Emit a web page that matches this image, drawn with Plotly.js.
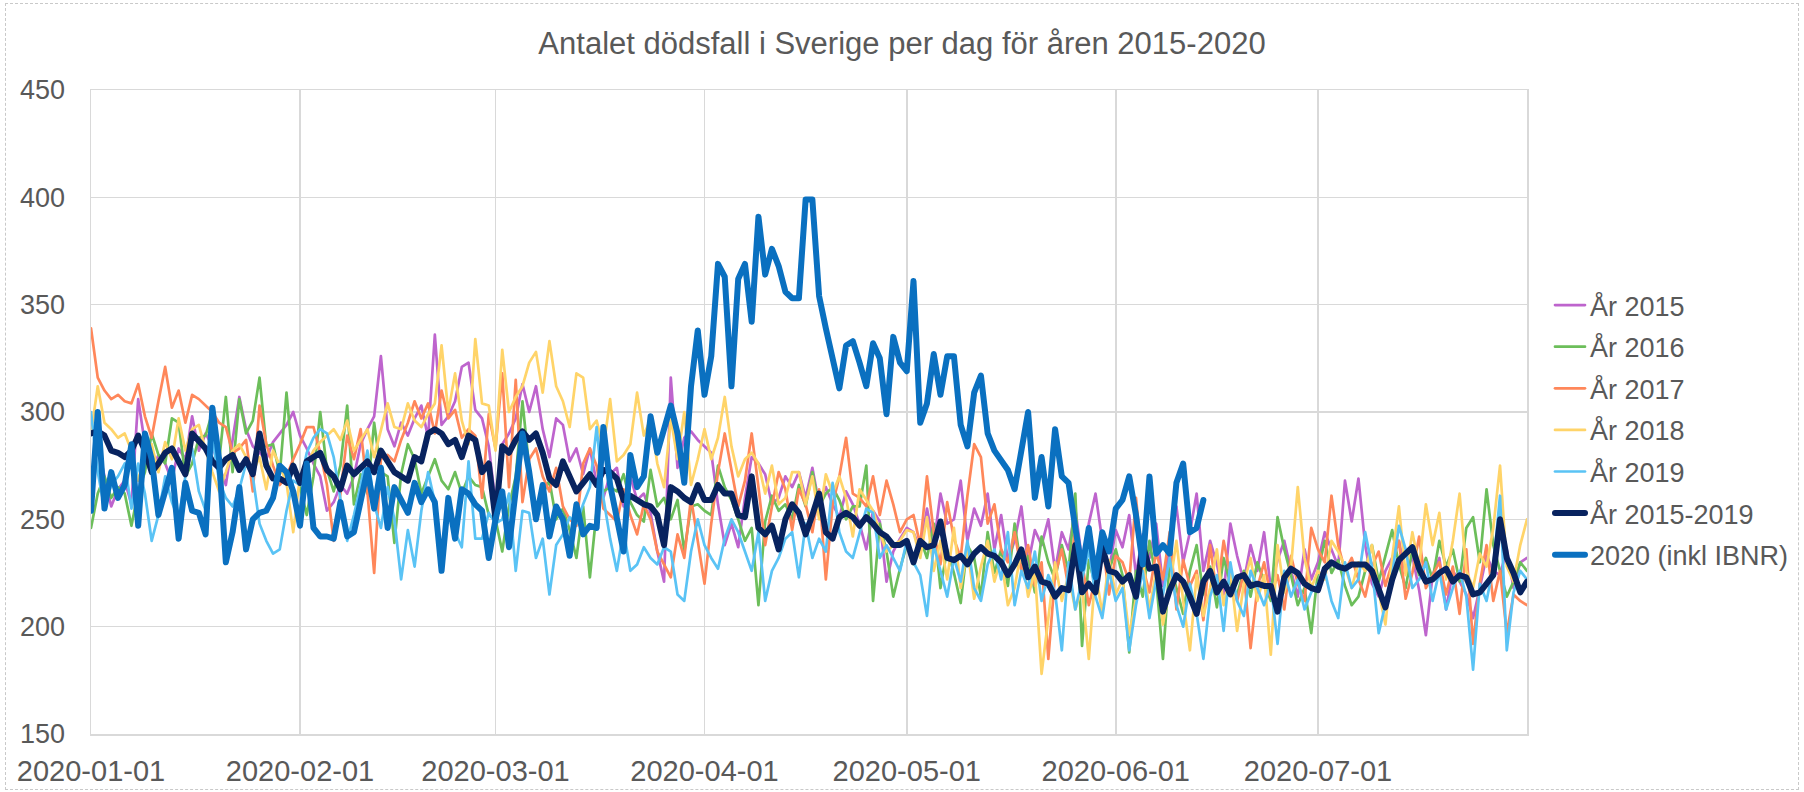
<!DOCTYPE html>
<html>
<head>
<meta charset="utf-8">
<script src="https://cdn.plot.ly/plotly-3.0.1.min.js"></script>
<style>
  body { margin: 0; background: #fff; }
  #wrap { position: relative; width: 1804px; height: 792px; }
  #chart { width: 1804px; height: 792px; }
  #frame { position: absolute; left: 5px; top: 3px; right: 5px; bottom: 2px;
           border: 1px dashed #c9c9c9; pointer-events: none; }
  .js-line { stroke-linejoin: round; stroke-linecap: round; }
</style>
</head>
<body>
<div id="wrap">
  <div id="chart"></div>
  <div id="frame"></div>
</div>
<script>
// daily deaths, one value per day starting 2020-01-01
var y2015 = [
  294, 285, 270, 256, 264, 268, 257, 306, 285, 272, 280, 276, 268, 283, 278, 298, 282, 290, 284, 275, 266, 287, 307, 292, 284, 281, 278, 286, 290, 294, 300, 289,
  283, 276, 270, 254, 258, 266, 262, 270, 285, 292, 298, 326, 292, 284, 295, 289, 297, 303, 288, 336, 294, 298, 305, 321, 323, 301, 297, 284, 258,
  285, 290, 297, 313, 300, 312, 292, 279, 297, 294, 277, 283, 271, 283, 267, 260, 271, 274, 256, 270, 259, 262, 253, 235, 221, 316, 274, 288, 291, 287, 284,
  281, 257, 238, 248, 237, 260, 279, 276, 271, 257, 260, 270, 265, 272, 260, 274, 257, 265, 257, 251, 263, 257, 248, 236, 254, 249, 221, 235, 241, 246,
  244, 236, 255, 238, 262, 248, 250, 268, 240, 255, 247, 262, 236, 252, 231, 240, 256, 229, 245, 238, 250, 226, 244, 236, 255, 231, 248, 262, 240, 226, 245,
  237, 252, 224, 243, 232, 248, 219, 238, 256, 230, 244, 262, 226, 240, 229, 215, 248, 233, 221, 238, 226, 244, 218, 231, 240, 226, 214, 236, 222, 230,
  244, 236, 228, 268, 249, 269, 238, 220, 214, 226, 232, 240, 225, 233, 217, 196, 224, 232, 208, 226, 221, 215, 204, 218, 233, 226, 224, 236, 218, 230, 232
];
var y2016 = [
  246, 262, 270, 260, 265, 262, 247, 263, 272, 290, 280, 276, 297, 295, 270, 276, 288, 289, 300, 277, 307, 272, 306, 290, 296, 316, 284, 285, 271, 309, 274, 265,
  252, 270, 300, 273, 263, 275, 303, 257, 271, 262, 295, 272, 270, 239, 271, 285, 278, 262, 270, 278, 268, 264, 272, 262, 270, 266, 265, 252, 250,
  235, 256, 270, 305, 274, 254, 262, 268, 250, 255, 245, 232, 256, 223, 254, 263, 265, 263, 271, 258, 252, 249, 273, 256, 260, 250, 259, 235, 256, 257, 254,
  252, 275, 265, 259, 250, 240, 246, 210, 249, 261, 254, 257, 250, 266, 256, 272, 256, 262, 265, 259, 250, 256, 256, 275, 212, 248, 235, 214, 227, 238,
  229, 241, 232, 248, 218, 236, 225, 211, 238, 232, 214, 244, 225, 236, 219, 248, 227, 233, 216, 242, 230, 222, 238, 226, 262, 191, 231, 219, 240, 226, 236,
  224, 188, 226, 214, 240, 222, 185, 230, 218, 206, 226, 238, 215, 228, 209, 232, 220, 215, 226, 214, 230, 221, 212, 251, 236, 224, 210, 218, 197, 226,
  240, 225, 231, 219, 210, 214, 226, 238, 221, 233, 245, 229, 218, 236, 224, 232, 222, 240, 228, 236, 221, 246, 251, 230, 264, 238, 226, 214, 221, 230, 226
];
var y2017 = [
  339, 316, 310, 306, 308, 305, 304, 313, 298, 288, 305, 321, 302, 310, 295, 308, 306, 303, 300, 295, 293, 281, 283, 287, 263, 303, 285, 275, 266, 270, 278, 285,
  293, 293, 281, 266, 240, 262, 289, 278, 292, 263, 225, 278, 280, 277, 287, 295, 305, 297, 304, 290, 310, 297, 301, 288, 292, 289, 260, 299, 283,
  318, 265, 315, 258, 278, 283, 270, 263, 274, 256, 250, 247, 276, 283, 275, 255, 252, 249, 264, 252, 243, 257, 250, 235, 229, 223, 243, 232, 260, 241, 220,
  248, 272, 290, 273, 256, 268, 290, 265, 238, 256, 272, 264, 245, 264, 257, 244, 264, 222, 257, 270, 288, 262, 260, 256, 270, 252, 268, 257, 244, 250,
  252, 238, 270, 244, 229, 258, 241, 232, 261, 285, 279, 248, 257, 236, 230, 244, 226, 238, 219, 230, 185, 224, 236, 218, 246, 230, 210, 222, 240, 215, 233,
  230, 221, 260, 228, 216, 235, 222, 244, 208, 231, 219, 226, 203, 238, 215, 240, 224, 212, 225, 190, 218, 230, 214, 224, 208, 233, 220, 212, 246, 236,
  230, 261, 238, 226, 232, 222, 214, 228, 235, 219, 230, 240, 213, 225, 242, 218, 224, 230, 215, 228, 206, 236, 192, 220, 238, 212, 226, 197, 215, 212, 210
];
var y2018 = [
  290, 312, 295, 292, 288, 290, 282, 268, 280, 285, 272, 286, 278, 297, 282, 292, 294, 282, 272, 263, 272, 282, 285, 279, 272, 279, 264, 282, 275, 267, 244, 270,
  275, 282, 286, 289, 292, 287, 296, 282, 287, 292, 279, 292, 304, 293, 292, 304, 296, 293, 299, 304, 331, 300, 318, 296, 285, 334, 304, 303, 282,
  329, 300, 307, 312, 323, 328, 309, 333, 312, 305, 293, 318, 316, 292, 296, 283, 306, 277, 280, 285, 309, 289, 297, 276, 265, 297, 278, 300, 266, 278, 292,
  278, 288, 307, 284, 270, 278, 281, 276, 262, 275, 257, 260, 272, 272, 257, 270, 250, 271, 262, 270, 260, 242, 264, 259, 254, 244, 235, 238, 240, 245,
  244, 232, 251, 226, 240, 222, 246, 218, 236, 213, 228, 240, 221, 232, 210, 218, 236, 214, 226, 178, 204, 230, 212, 224, 208, 218, 185, 226, 206, 231, 215,
  222, 196, 214, 230, 208, 226, 201, 218, 240, 212, 189, 224, 205, 218, 236, 210, 226, 198, 220, 232, 212, 224, 187, 238, 216, 228, 265, 232, 218, 226,
  222, 240, 235, 228, 218, 230, 226, 238, 216, 201, 232, 256, 224, 244, 228, 257, 238, 253, 222, 240, 262, 226, 218, 234, 228, 246, 275, 228, 221, 238, 250
];
var y2019 = [
  300, 272, 255, 266, 270, 276, 255, 276, 262, 240, 252, 270, 258, 250, 270, 283, 263, 254, 288, 268, 260, 256, 264, 276, 270, 248, 240, 234, 236, 254, 268, 266,
  281, 288, 292, 290, 279, 260, 240, 252, 266, 282, 257, 246, 265, 250, 222, 245, 228, 254, 272, 258, 227, 256, 244, 237, 277, 241, 241, 253, 248,
  250, 262, 226, 254, 253, 232, 241, 215, 238, 243, 251, 248, 257, 265, 293, 260, 241, 226, 245, 226, 229, 237, 232, 229, 237, 235, 215, 212, 235, 250, 238,
  232, 227, 241, 250, 244, 235, 226, 244, 212, 226, 232, 241, 244, 223, 248, 232, 241, 235, 267, 244, 235, 232, 243, 255, 253, 232, 238, 232, 226, 240,
  230, 224, 205, 238, 226, 214, 232, 221, 240, 218, 212, 229, 236, 222, 244, 210, 226, 218, 235, 212, 224, 216, 189, 230, 208, 222, 236, 214, 204, 226, 212,
  218, 189, 210, 226, 204, 222, 215, 232, 210, 200, 220, 206, 185, 214, 224, 198, 230, 212, 205, 226, 218, 210, 220, 192, 226, 214, 222, 208, 216, 220,
  226, 212, 204, 230, 218, 222, 244, 228, 197, 210, 224, 247, 236, 218, 222, 230, 212, 226, 208, 218, 226, 214, 180, 220, 212, 228, 261, 189, 216, 226, 222
];
var yAvg = [
  290, 291, 289, 282, 281, 279, 282, 289, 282, 272, 276, 281, 283, 277, 271, 290, 286, 283, 277, 274, 278, 280, 273, 278, 271, 290, 275, 269, 269, 267, 275, 267,
  277, 279, 281, 273, 270, 264, 275, 271, 274, 277, 272, 282, 277, 272, 270, 268, 279, 277, 290, 292, 290, 285, 287, 279, 289, 287, 272, 276, 250,
  284, 281, 287, 291, 287, 290, 281, 269, 266, 277, 270, 263, 267, 271, 266, 273, 272, 269, 259, 261, 259, 257, 256, 252, 238, 265, 263, 260, 258, 266, 259,
  259, 266, 262, 262, 252, 251, 270, 246, 243, 247, 236, 250, 257, 253, 243, 252, 262, 244, 241, 251, 253, 251, 247, 251, 248, 244, 242, 238, 238, 240,
  230, 240, 237, 238, 249, 232, 231, 233, 229, 234, 237, 234, 233, 230, 224, 229, 236, 223, 228, 221, 220, 214, 218, 217, 238, 216, 220, 216, 237, 226, 225,
  221, 224, 214, 238, 227, 228, 207, 217, 224, 221, 214, 206, 221, 226, 216, 221, 215, 223, 224, 219, 220, 219, 219, 207, 223, 227, 225, 220, 218, 217,
  227, 230, 228, 227, 229, 229, 229, 226, 217, 209, 222, 231, 234, 237, 227, 221, 222, 225, 227, 221, 224, 223, 215, 216, 220, 224, 250, 232, 225, 216, 221
];
var y2020 = [
  254, 300, 255, 272, 260, 266, 285, 247, 290, 278, 252, 263, 274, 241, 267, 254, 253, 243, 302, 278, 230, 244, 265, 236, 250, 253, 254, 260, 275, 272, 263, 247,
  276, 246, 242, 242, 241, 258, 242, 244, 260, 273, 255, 274, 246, 265, 259, 253, 267, 258, 264, 258, 226, 260, 241, 264, 262, 257, 254, 232, 250,
  263, 237, 263, 290, 272, 250, 266, 242, 256, 250, 233, 257, 243, 247, 246, 293, 266, 251, 235, 280, 265, 270, 298, 281, 292, 303, 290, 267, 312, 338, 308,
  326, 369, 363, 312, 362, 369, 342, 391, 364, 376, 368, 356, 353, 353, 399, 399, 354, 339, 326, 311, 331, 333, 323, 312, 332, 325, 299, 335, 323, 319,
  361, 295, 304, 327, 308, 326, 326, 294, 284, 309, 317, 290, 282, 277, 273, 264, 282, 300, 260, 279, 256, 292, 270, 267, 246, 227, 246, 223, 244, 235, 255,
  259, 270, 252, 229, 270, 234, 238, 234, 267, 276, 244, 246, 259
];

var seriesNames = ["År 2015", "År 2016", "År 2017", "År 2018", "År 2019", "År 2015-2019", "2020 (inkl IBNR)"];
var tickDates = ["2020-01-01", "2020-02-01", "2020-03-01", "2020-04-01", "2020-05-01", "2020-06-01", "2020-07-01"];

function dates(n) {
  var out = [];
  for (var i = 0; i < n; i++) {
    out.push(new Date(Date.UTC(2020, 0, 1 + i)).toISOString().slice(0, 10));
  }
  return out;
}

function line(y, name, color, width) {
  return {
    x: dates(y.length), y: y, name: name, legendgroup: name,
    type: "scatter", mode: "lines",
    line: { color: color, width: width }
  };
}

var data = [
  line(y2015, seriesNames[0], "#be64cd", 2.7),
  line(y2016, seriesNames[1], "#6cbe5a", 2.7),
  line(y2017, seriesNames[2], "#ff875a", 2.7),
  line(y2018, seriesNames[3], "#ffd469", 2.7),
  line(y2019, seriesNames[4], "#5ac3f5", 2.7),
  line(yAvg, seriesNames[5], "#08235f", 6),
  line(y2020, seriesNames[6], "#0a70c0", 6)
];

var layout = {
  width: 1804,
  height: 792,
  margin: { l: 91, r: 277, t: 90, b: 58, autoexpand: false },
  paper_bgcolor: "#ffffff",
  plot_bgcolor: "#ffffff",
  font: { family: "Liberation Sans, Arial, sans-serif", size: 27, color: "#595959" },
  title: {
    text: "Antalet dödsfall i Sverige per dag för åren 2015-2020",
    xref: "container", x: 0.5, xanchor: "center",
    yref: "container", y: 0.946, yanchor: "middle",
    font: { size: 31, color: "#595959" }
  },
  xaxis: {
    type: "date",
    range: ["2020-01-01", "2020-08-01"],
    tickvals: tickDates,
    ticktext: tickDates,
    showgrid: true, gridcolor: "#d9d9d9", gridwidth: 1.5,
    showline: true, linecolor: "#d9d9d9", linewidth: 1.5, mirror: true,
    zeroline: false, ticks: "",
    ticklabelstandoff: 11,
    tickfont: { size: 29, color: "#595959" }
  },
  yaxis: {
    range: [150, 450], tick0: 150, dtick: 50,
    showgrid: true, gridcolor: "#d9d9d9", gridwidth: 1.5,
    showline: true, linecolor: "#d9d9d9", linewidth: 1.5, mirror: true,
    zeroline: false, ticks: "",
    ticklabelstandoff: 19,
    tickfont: { size: 27, color: "#595959" }
  },
  showlegend: true,
  legend: {
    x: 0.8592, xanchor: "left", xref: "container",
    y: 0.472, yanchor: "middle",
    traceorder: "grouped", tracegroupgap: 3.5,
    font: { size: 27, color: "#595959" },
    bgcolor: "rgba(0,0,0,0)"
  }
};

Plotly.newPlot("chart", data, layout, { displayModeBar: false, staticPlot: true });
</script>
</body>
</html>
